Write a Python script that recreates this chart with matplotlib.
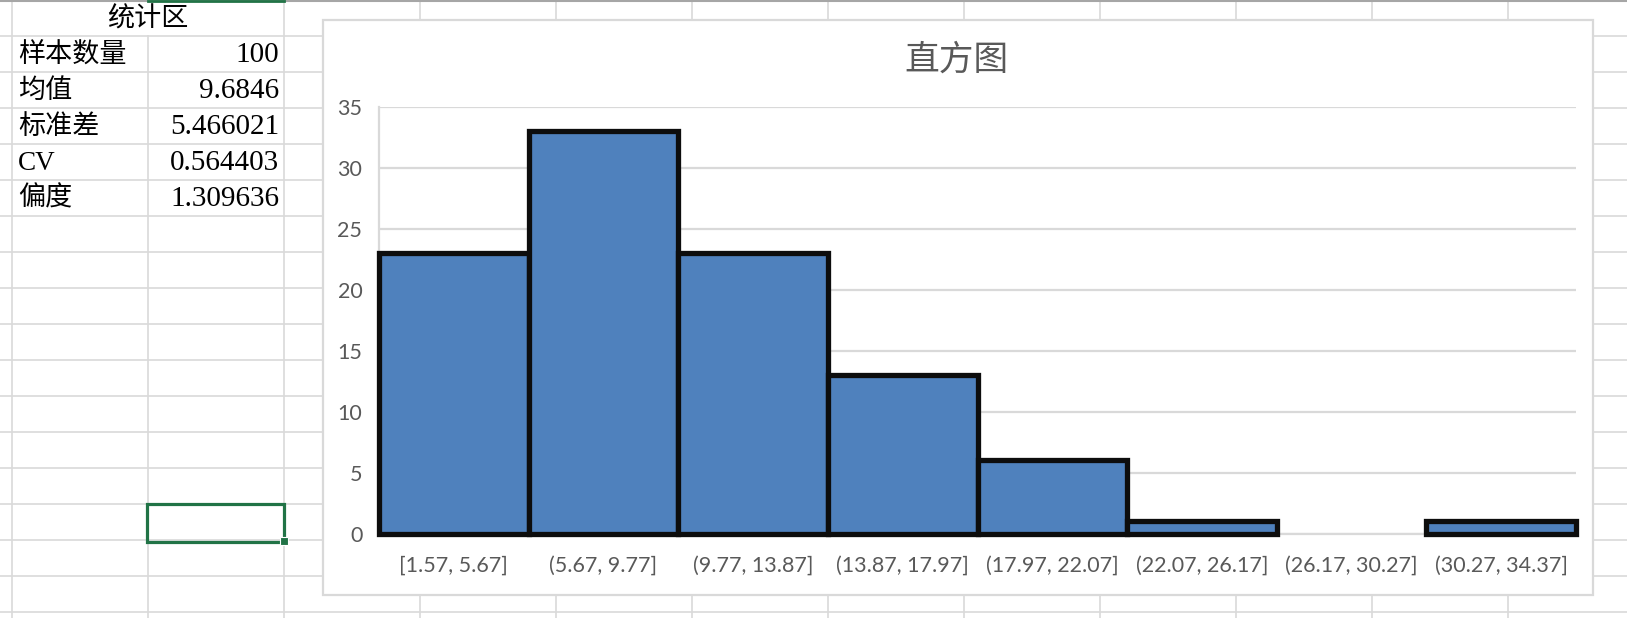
import matplotlib
matplotlib.use('Agg')
import matplotlib.pyplot as plt
from matplotlib.patches import Rectangle
from matplotlib import font_manager

# histogram data
bin_labels = ['[1.57, 5.67]', '(5.67, 9.77]', '(9.77, 13.87]', '(13.87, 17.97]',
              '(17.97, 22.07]', '(22.07, 26.17]', '(26.17, 30.27]', '(30.27, 34.37]']
counts = [23, 33, 23, 13, 6, 1, 0, 1]
y_ticks = [0, 5, 10, 15, 20, 25, 30, 35]
chart_title = '直方图'

# statistics table on the sheet
table_header = '统计区'
stat_names = ['样本数量', '均值', '标准差', 'CV', '偏度']
stat_values = ['100', '9.6846', '5.466021', '0.564403', '1.309636']

W, H = 1627, 618
cjk = 'Noto Sans CJK SC'
gray_txt = '#595959'
sheet_line = '#d9d9d9'
excel_green = '#217346'

try:
    font_manager.findfont('Liberation Sans Narrow', fallback_to_default=False)
    narrow = 'Liberation Sans Narrow'
except Exception:
    narrow = 'Lato'

fig = plt.figure(figsize=(W / 100, H / 100), dpi=100)

# sheet background drawn in pixel coordinates
bg = fig.add_axes([0, 0, 1, 1])
bg.set_xlim(0, W)
bg.set_ylim(H, 0)
bg.axis('off')

for x in range(12, W, 136):
    top = 36 if x == 148 else 0
    bg.plot([x, x], [top, H], color=sheet_line, lw=1.2, zorder=1)
for y in range(36, H, 36):
    bg.plot([0, W], [y, y], color=sheet_line, lw=1.2, zorder=1)
bg.plot([0, W], [0.5, 0.5], color='#a6a6a6', lw=1.5, zorder=1)
bg.plot([148, 284], [0.8, 0.8], color=excel_green, lw=2, zorder=2)

# selected cell
bg.add_patch(Rectangle((147.5, 503.5), 137, 38, fill=False, edgecolor=excel_green, lw=2.3, zorder=3))
bg.add_patch(Rectangle((280, 537), 8, 8, facecolor=excel_green, edgecolor='white', lw=0.8, zorder=4))

# table text
bg.text(148, 19, table_header, ha='center', va='center', fontsize=19.5, family=cjk, color='black')
for i, (name, val) in enumerate(zip(stat_names, stat_values)):
    yc = 54 + 36 * i
    bg.text(18, yc + 1, name, ha='left', va='center', fontsize=19.5,
            family=['Liberation Serif', cjk], color='black')
    bg.text(279, yc + 1, val, ha='right', va='center', fontsize=21,
            family='Liberation Serif', color='black')

# chart area box
bg.add_patch(Rectangle((323, 20), 1270, 575, facecolor='white', edgecolor='#d9d9d9', lw=1.6, zorder=5))
bg.text(957, 60, chart_title, ha='center', va='center', fontsize=25, family=cjk, color=gray_txt, zorder=6)

# plot area
left, right, top, bottom = 379, 1576, 107, 533.5
ax = fig.add_axes([left / W, (H - bottom) / H, (right - left) / W, (bottom - top) / H])
ax.set_facecolor('none')
xs = list(range(len(counts)))
ax.bar(xs, counts, width=1.0, color='#4f81bd', edgecolor='#0d0d0d',
       linewidth=[3.8 if c > 0 else 0 for c in counts], zorder=3, clip_on=False)
ax.set_xlim(-0.5, len(counts) - 0.5)
ax.set_ylim(0, 35)
ax.set_yticks(y_ticks)
ax.set_xticks(xs)
ax.set_xticklabels(bin_labels)
ax.grid(axis='y', color='#d9d9d9', lw=1.6)
ax.set_axisbelow(True)
for s in ['top', 'right']:
    ax.spines[s].set_visible(False)
for s in ['left', 'bottom']:
    ax.spines[s].set_color('#d9d9d9')
    ax.spines[s].set_linewidth(1.6)
ax.tick_params(axis='y', length=0, pad=12, labelsize=15.5, labelcolor=gray_txt)
ax.tick_params(axis='x', length=0, pad=16, labelsize=15.5, labelcolor=gray_txt)
for lab in ax.get_yticklabels():
    lab.set_family('Lato')
for i, lab in enumerate(ax.get_xticklabels()):
    lab.set_family('Lato' if i < 3 else narrow)

fig.savefig('out.png', dpi=100)
